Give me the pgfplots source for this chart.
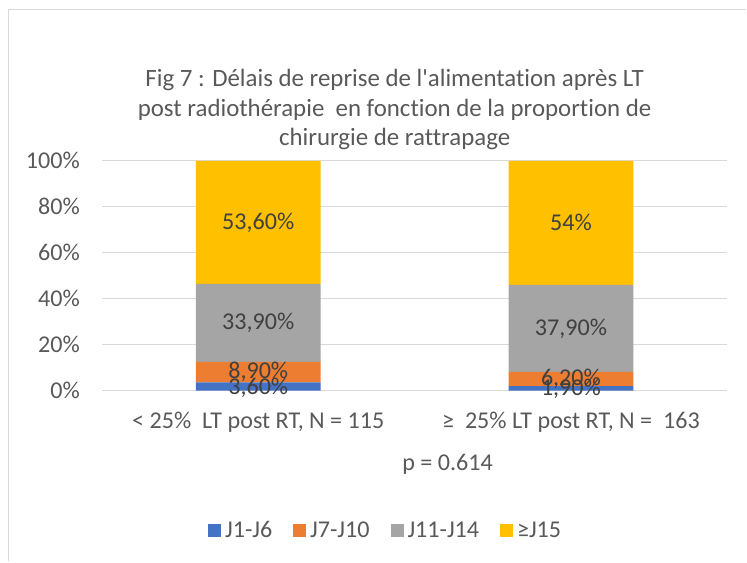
\documentclass[border=0pt]{standalone}
\usepackage{pgfplots}
\pgfplotsset{compat=1.18}
\usepackage{fontspec}
\setmainfont{Carlito}[Ligatures={TeXOff,NoCommon}]
\definecolor{txt}{HTML}{595959}
\definecolor{lbl}{HTML}{404040}
\definecolor{gridc}{HTML}{D9D9D9}
\definecolor{cA}{HTML}{4472C4}
\definecolor{cB}{HTML}{ED7D31}
\definecolor{cC}{HTML}{A5A5A5}
\definecolor{cD}{HTML}{FFC000}
\newcommand{\fs}{\fontsize{24.2}{29.5}\selectfont}
\newcommand{\ft}{\fontsize{25}{29.7}\selectfont}
\pgfplotstableread{
x a b c d
0 3.6 8.9 33.9 53.6
1 1.9 6.2 37.9 54
}\data
\pgfplotstableread{
x y label
0 1.3 3,60\%
0 8.05 8,90\%
0 29.45 33,90\%
0 73.2 53,60\%
1 0.6 1,90\%
1 5.0 6,20\%
1 27.05 37,90\%
1 73.0 54\%
}\labels
\begin{document}
\begin{tikzpicture}[x=1bp,y=1bp]
\path (0,0) rectangle (747,562);
\draw[gridc, line width=1.5bp] (8.5,0) -- (8.5,552.5) -- (747,552.5);
\node[text=txt, align=center, font=\ft, inner sep=0pt] at (395,452) {Fig 7 : Délais de reprise de l'alimentation après LT\\post radiothérapie\ \ en fonction de la proportion de\\chirurgie de rattrapage};
\node[text=txt, font=\fs, inner sep=0pt, anchor=base] at (448,91) {p = 0.614};
\begin{axis}[
  at={(102bp,171bp)}, anchor=south west,
  scale only axis, width=626bp, height=230bp,
  ybar stacked, bar width=125bp,
  xmin=-0.5, xmax=1.5, ymin=0, ymax=100,
  axis line style={draw=none},
  major tick length=0pt,
  ymajorgrids, grid style={gridc, line width=1bp},
  ytick={0,20,40,60,80,100},
  yticklabel={\pgfmathprintnumber{\tick}\%},
  /pgf/number format/assume math mode=true,
  xtick={0,1},
  xticklabels={<\ 25\%\ \ LT post RT{,} N = 115, ≥\ \ 25\% LT post RT{,} N =\ \ 163},
  tick label style={font=\fs, text=txt},
  yticklabel style={anchor=east, inner sep=0pt, xshift=-22bp},
  xticklabel style={anchor=base, inner sep=0pt, yshift=-38bp},
  legend columns=4,
  legend style={at={(0.4553,-0.6087)}, anchor=center, draw=none, fill=none,
    font=\fs, text=txt, nodes={inner xsep=4bp, inner ysep=2bp},
    /tikz/every even column/.append style={column sep=17bp}},
  legend image code/.code={\fill[#1] (0bp,-6.5bp) rectangle (13bp,6.5bp);},
]
\addplot[fill=cA, draw=none] table[x=x,y=a] {\data};
\addplot[fill=cB, draw=none] table[x=x,y=b] {\data};
\addplot[fill=cC, draw=none] table[x=x,y=c] {\data};
\addplot[fill=cD, draw=none] table[x=x,y=d] {\data};
\legend{J1-J6, J7-J10, J11-J14, ≥J15}
\end{axis}
\begin{axis}[
  at={(102bp,171bp)}, anchor=south west,
  scale only axis, width=626bp, height=230bp,
  xmin=-0.5, xmax=1.5, ymin=0, ymax=100,
  hide axis, clip=false,
]
\addplot[draw=none, mark=none, nodes near coords, point meta=explicit symbolic,
  every node near coord/.append style={anchor=center, font=\fs, text=lbl, inner sep=0pt}]
  table[x=x, y=y, meta=label] {\labels};
\end{axis}
\end{tikzpicture}
\end{document}
